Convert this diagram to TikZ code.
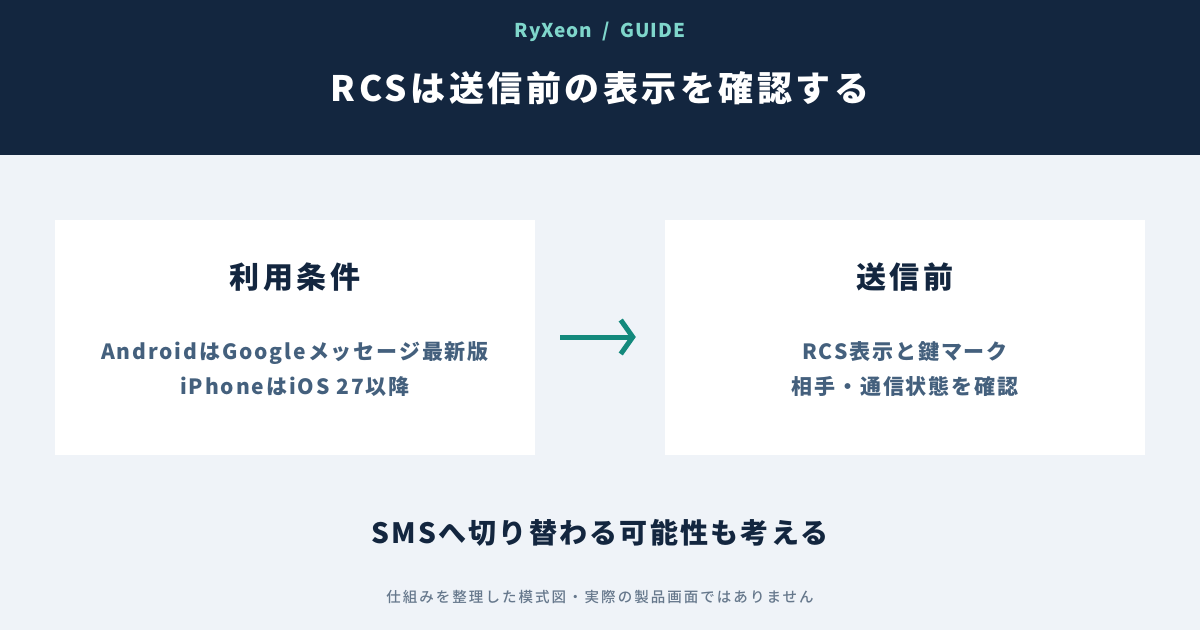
\documentclass[tikz,border=0pt]{standalone}
\usepackage{fontspec}
\setmainfont{Noto Sans CJK JP}
\newfontfamily\jpmedium{Noto Sans CJK JP Medium}
\usetikzlibrary{arrows.meta, positioning}
\definecolor{GuideNavy}{HTML}{13263F}
\definecolor{GuideTeal}{HTML}{7FD6CB}
\definecolor{GuideBack}{HTML}{EFF3F8}
\definecolor{GuideSlate}{HTML}{44607D}
\definecolor{GuideArrow}{HTML}{13897C}
\definecolor{GuideGray}{HTML}{66788C}
\newcommand{\spaced}[1]{\addfontfeatures{LetterSpace=#1}}
\tikzset{
    % panels
    card/.style={
        rectangle,
        fill=white,
        draw=none,
        minimum width=480pt,
        minimum height=235pt,
        inner sep=0pt
    },
    cardtitle/.style={
        text=GuideNavy,
        font=\fontsize{30}{36}\selectfont\bfseries\spaced{12}
    },
    cardtext/.style={
        text=GuideSlate,
        align=center,
        font=\fontsize{21}{35}\selectfont\bfseries\spaced{9}
    },
    % arrow
    steparrow/.style={
        -{Straight Barb[length=12pt, width=34pt, line width=5pt]},
        line width=5pt,
        draw=GuideArrow
    }
}

\begin{document}
\begin{tikzpicture}[x=1pt, y=-1pt]
    \fill[GuideBack] (0,0) rectangle (1200,630);
    \fill[GuideNavy] (0,0) rectangle (1200,155);
    \useasboundingbox (0,0) rectangle (1200,630);

    \node[text=GuideTeal, font=\fontsize{19}{22}\selectfont\bfseries\spaced{5}] (brand) at (600,32) {RyXeon\ \ /\ \ GUIDE};
    \node[text=white, font=\fontsize{35}{40}\selectfont\bfseries\spaced{10}] (title) at (600,88) {RCSは送信前の表示を確認する};

    \node[card] (cond) at (295,337.5) {};
    \node[card] (before) at (905,337.5) {};

    \node[cardtitle] (condtitle) at (295,277) {利用条件};
    \node[cardtext] (condtext) at (295,369) {AndroidはGoogleメッセージ最新版\\iPhoneはiOS 27以降};

    \node[cardtitle] (beforetitle) at (905,277) {送信前};
    \node[cardtext] (beforetext) at (905,369) {RCS表示と鍵マーク\\相手・通信状態を確認};

    \draw[steparrow, shorten <=25pt, shorten >=29pt] (cond.east |- 0,337) -- (before.west |- 0,337);

    \node[text=GuideNavy, font=\fontsize{28}{32}\selectfont\bfseries\spaced{8}] (sms) at (600,533) {SMSへ切り替わる可能性も考える};
    \node[text=GuideGray, font=\jpmedium\fontsize{14.5}{18}\selectfont\spaced{14}] (note) at (600,597) {仕組みを整理した模式図・実際の製品画面ではありません};
\end{tikzpicture}
\end{document}
